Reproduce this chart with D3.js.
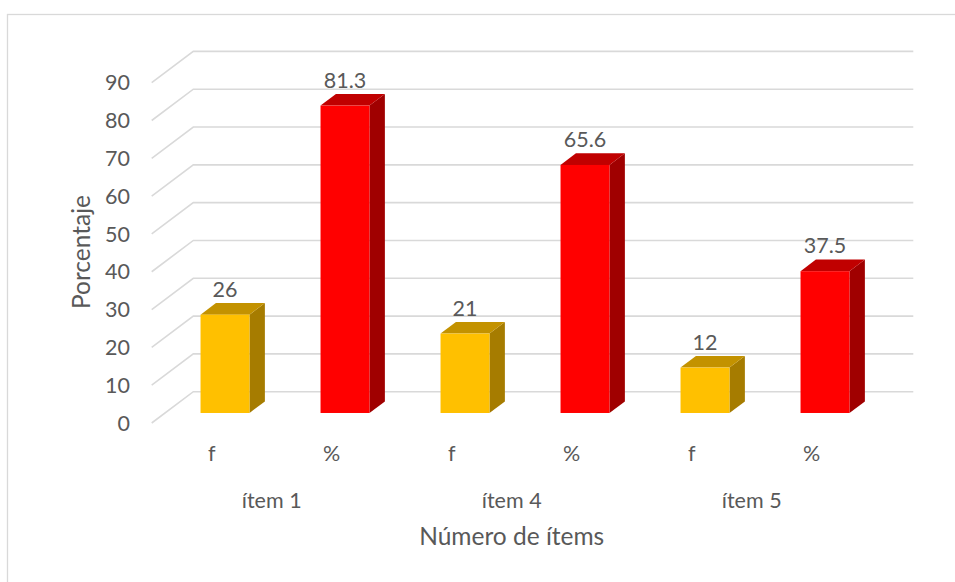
<!DOCTYPE html>
<html>
<head>
<meta charset="utf-8">
<script src="https://cdn.jsdelivr.net/npm/d3@7"></script>
<style>
  body { margin: 0; background: #fff; }
  text { font-family: Lato, "Open Sans", sans-serif; fill: #595959; }
</style>
</head>
<body>
<div id="chart"></div>
<script>
// data
const items = ['ítem 1', 'ítem 4', 'ítem 5'];
const measures = ['f', '%'];
const fValues = [26, 21, 12];
const pctValues = [81.3, 65.6, 37.5];
const yTicks = [0, 10, 20, 30, 40, 50, 60, 70, 80, 90];

const width = 955, height = 582;
const settings = {
  front: { left: 151.7, right: 871.7, bottom: 423, top: 82.7 },
  depth: { dx: 41.6, dy: 31.3 },
  barDepth: [0.32, 0.69],
  colors: {
    f: { front: '#FFC000', top: '#C39200', side: '#A67C00' },
    '%': { front: '#FF0000', top: '#C00000', side: '#A00000' },
  },
  grid: '#d9d9d9',
  labelSize: '21.5px',
  titleSize: '24.5px',
};

const rows = items.flatMap((it, i) => [
  { item: it, key: 'f', value: fValues[i] },
  { item: it, key: '%', value: pctValues[i] },
]);

const svg = d3.select('#chart').append('svg')
  .attr('width', width).attr('height', height);

// chart border
svg.append('rect')
  .attr('x', 7.5).attr('y', 14.5).attr('width', 1000).attr('height', 1000)
  .attr('fill', 'none').attr('stroke', settings.grid).attr('stroke-width', 1.3);

const { front, depth, labelSize, titleSize } = settings;

const xGroup = d3.scaleBand().domain(items).range([front.left, front.right]);
const xSub = d3.scaleBand().domain(measures).range([0, xGroup.bandwidth()])
  .paddingInner(0.592).paddingOuter(0.296);
const xCat = d3.scaleBand().domain(measures).range([0, xGroup.bandwidth()]);
const yScale = d3.scaleLinear().domain([0, 90]).range([front.bottom, front.top]);

// projection: x on front plane, value, depth z (0 front .. 1 back)
const proj = (x, v, z) => [x + z * depth.dx, yScale(v) - z * depth.dy];

// gridlines: side wall diagonal + back wall
const gridG = svg.append('g').attr('class', 'grid');
yTicks.forEach(t => {
  const pts = [proj(front.left, t, 0), proj(front.left, t, 1), proj(front.right, t, 1)];
  gridG.append('path')
    .attr('d', d3.line()(pts))
    .attr('fill', 'none')
    .attr('stroke', settings.grid)
    .attr('stroke-width', 1.6);
});

// y tick labels
svg.append('g').selectAll('text').data(yTicks).join('text')
  .attr('x', 130)
  .attr('y', d => yScale(d))
  .attr('dy', '0.36em')
  .attr('text-anchor', 'end')
  .style('font-size', labelSize)
  .text(d => d);

// bars
const [z0, z1] = settings.barDepth;
const barsG = svg.append('g').attr('class', 'bars');
rows.forEach(d => {
  const xl = xGroup(d.item) + xSub(d.key);
  const xr = xl + xSub.bandwidth();
  const c = settings.colors[d.key];
  const g = barsG.append('g');
  // right side
  g.append('path')
    .attr('d', d3.line()([proj(xr, d.value, z0), proj(xr, 0, z0), proj(xr, 0, z1), proj(xr, d.value, z1)]) + 'Z')
    .attr('fill', c.side);
  // top
  g.append('path')
    .attr('d', d3.line()([proj(xl, d.value, z0), proj(xr, d.value, z0), proj(xr, d.value, z1), proj(xl, d.value, z1)]) + 'Z')
    .attr('fill', c.top);
  // front
  const [fx, fy] = proj(xl, d.value, z0);
  const [, by] = proj(xl, 0, z0);
  g.append('rect')
    .attr('x', fx).attr('y', fy)
    .attr('width', xSub.bandwidth()).attr('height', by - fy)
    .attr('fill', c.front);
  // value label
  g.append('text')
    .attr('x', fx + xSub.bandwidth() / 2)
    .attr('y', fy - 18)
    .attr('text-anchor', 'middle')
    .style('font-size', labelSize)
    .text(d.value);
});

// category labels (f / %)
svg.append('g').selectAll('text').data(rows).join('text')
  .attr('x', d => xGroup(d.item) + xCat(d.key) + xCat.bandwidth() / 2)
  .attr('y', 461)
  .attr('text-anchor', 'middle')
  .style('font-size', labelSize)
  .text(d => d.key);

// group labels
svg.append('g').selectAll('text').data(items).join('text')
  .attr('x', d => xGroup(d) + xGroup.bandwidth() / 2)
  .attr('y', 508)
  .attr('text-anchor', 'middle')
  .style('font-size', labelSize)
  .text(d => d);

// axis titles
svg.append('text')
  .attr('x', (front.left + front.right) / 2)
  .attr('y', 545)
  .attr('text-anchor', 'middle')
  .style('font-size', titleSize)
  .text('Número de ítems');

svg.append('text')
  .attr('transform', 'translate(90,252) rotate(-90)')
  .attr('text-anchor', 'middle')
  .style('font-size', titleSize)
  .text('Porcentaje');
</script>
</body>
</html>
